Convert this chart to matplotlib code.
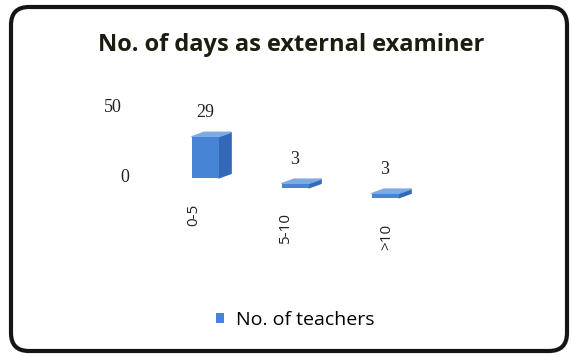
import matplotlib.pyplot as plt
from matplotlib.patches import Polygon, FancyBboxPatch

# data
categories = ['0-5', '5-10', '>10']
teachers = [29, 3, 3]
y_ticks = [0, 50]
title = 'No. of days as external examiner'
series_name = 'No. of teachers'

front = '#4784d6'
side = '#3468b8'
top_col = '#7eaae2'

fig = plt.figure(figsize=(5.71, 3.56), dpi=100)
ax = fig.add_axes([0, 0, 1, 1])
# 90 px per category, 1.42 px per unit
ax.set_xlim(-205 / 90, 366 / 90)
ax.set_ylim(-178 / 1.42, 178 / 1.42)
ax.axis('off')

w = 0.3            # front face width
dx, dy = 0.14, 3.2  # depth of the fake 3d boxes
drop = 7.0         # the floor goes down to the right
label_shift = [-0.13, -0.11, 0.02]

xs = list(range(len(categories)))
bases = [-drop * i for i in xs]

bars = ax.bar([x - w / 2 for x in xs], teachers, width=w, bottom=bases,
              align='edge', color=front, label=series_name, zorder=3)

for x, v, b, cat, sh in zip(xs, teachers, bases, categories, label_shift):
    x0, x1 = x - w / 2, x + w / 2
    t = b + v
    ax.add_patch(Polygon([(x1, b), (x1 + dx, b + dy), (x1 + dx, t + dy), (x1, t)],
                         closed=True, color=side, zorder=2))
    ax.add_patch(Polygon([(x0, t), (x1, t), (x1 + dx, t + dy), (x0 + dx, t + dy)],
                         closed=True, color=top_col, zorder=2))
    ax.text(x, t + dy + 14, str(v), ha='center', va='center',
            fontsize=13, family='Liberation Serif', color='#222222')
    ax.text(x + sh, b - 18, cat, rotation=90, ha='center', va='top',
            fontsize=11, family='Open Sans', color='#222222')

# value axis labels (axis is slanted a bit)
for v in y_ticks:
    ax.text(-0.89 - 0.0026 * v, v, str(v), ha='center', va='center',
            fontsize=13, family='Liberation Serif', color='#222222')

fig.text(0.51, 1 - 45 / 356, title, ha='center', va='center',
         fontsize=17, fontweight='bold', family='Open Sans', color='#1c1c10')

fig.legend(handles=[bars], loc='center', bbox_to_anchor=(295 / 571, 1 - 320 / 356),
           frameon=False, handlelength=0.45, handleheight=0.45, handletextpad=0.6,
           prop={'family': 'Open Sans', 'size': 14})

border = FancyBboxPatch((0.11, 0.05), 5.56, 3.44,
                        boxstyle='round,pad=0,rounding_size=0.18',
                        transform=fig.dpi_scale_trans, fill=False,
                        lw=3, ec='#151515')
fig.patches.append(border)

fig.savefig('out.png', dpi=100)
